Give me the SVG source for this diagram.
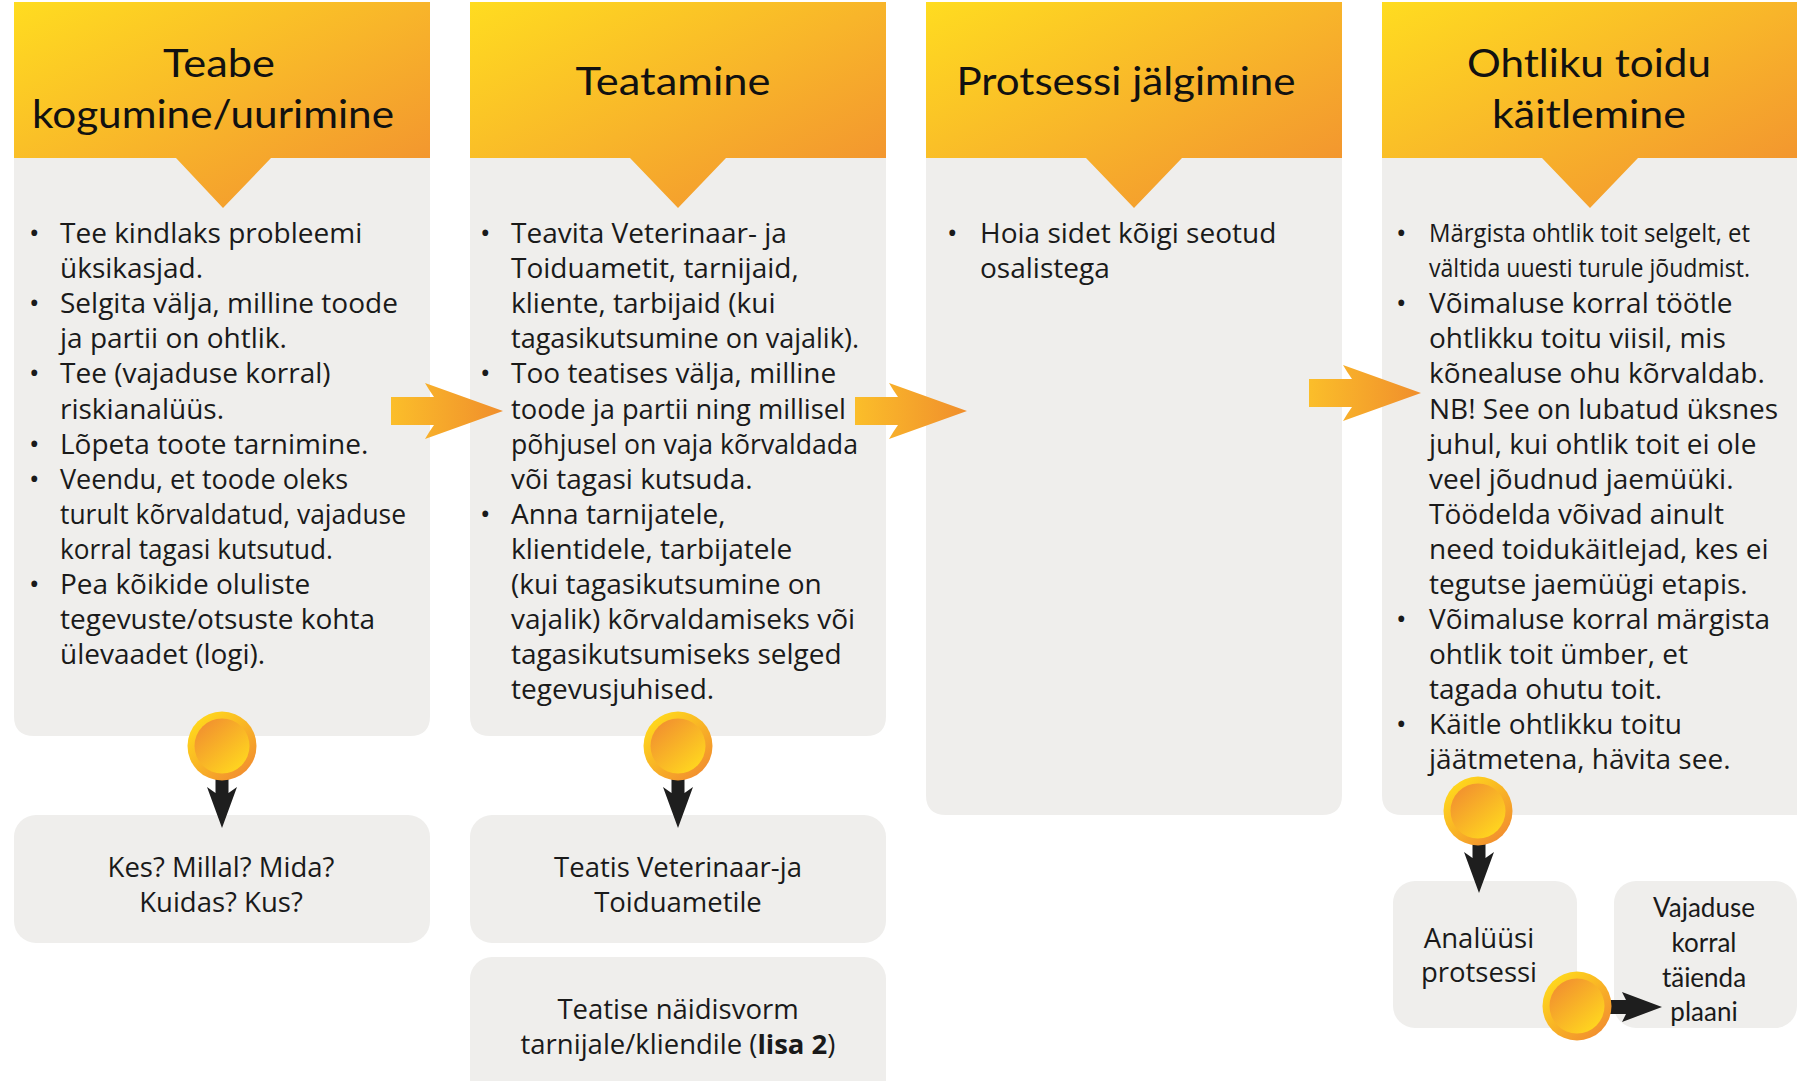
<svg xmlns="http://www.w3.org/2000/svg" width="1797" height="1081" viewBox="0 0 1797 1081">
<defs>
<linearGradient id="gHdr" x1="0" y1="0" x2="1" y2="1">
<stop offset="0" stop-color="#ffdc20"/>
<stop offset="0.5" stop-color="#f8b52a"/>
<stop offset="1" stop-color="#f18d30"/>
</linearGradient>
<linearGradient id="gArr" x1="0" y1="0" x2="1" y2="0">
<stop offset="0" stop-color="#fbbe2a"/>
<stop offset="1" stop-color="#f08e2c"/>
</linearGradient>
<linearGradient id="gOut" x1="0.15" y1="0.1" x2="0.85" y2="0.9">
<stop offset="0" stop-color="#ffd81c"/>
<stop offset="1" stop-color="#f28f2f"/>
</linearGradient>
<linearGradient id="gIn" x1="0.15" y1="0.1" x2="0.85" y2="0.9">
<stop offset="0" stop-color="#f2922f"/>
<stop offset="1" stop-color="#ffd61f"/>
</linearGradient>
<g id="coin">
<circle r="34.5" fill="url(#gOut)"/>
<circle r="27.5" fill="url(#gIn)"/>
</g>
<path id="downArr" d="M-6.5,0 L6.5,0 L6.5,14 L15,8 L0,49 L-15,8 L-6.5,14 Z" fill="#1e1e1e"/>
<path id="rightArr" d="M0,-14 L43,-14 Q38,-21 34,-28 L112,0 L34,28 Q38,21 43,14 L0,14 Z" fill="url(#gArr)"/>
</defs>
<style>
.box{fill:#efeeec}
.hdr{fill:url(#gHdr)}
.ttl{font-family:Lato,"Open Sans",sans-serif;font-size:39px;fill:#111;text-anchor:middle}
.bd{font-family:"Open Sans","DejaVu Sans",sans-serif;font-size:28px;fill:#1a1a1a}
.ctr{font-family:"Open Sans","DejaVu Sans",sans-serif;font-size:27.5px;fill:#1a1a1a;text-anchor:middle}
.nar{font-family:Lato,"Open Sans",sans-serif;font-size:26px;fill:#1a1a1a;text-anchor:middle}
.cnd{font-size:26px}
.b{font-weight:bold}
</style>
<rect width="1797" height="1081" fill="#ffffff"/>

<g id="col1">
<path class="box" d="M14,150 H430 V716 Q430,736 410,736 H34 Q14,736 14,716 Z"/>
<path class="hdr" d="M14,2 H430 V158 H271 L223,208 L176,158 H14 Z"/>
<text class="ttl" x="219" y="77" textLength="112" lengthAdjust="spacingAndGlyphs">Teabe</text>
<text class="ttl" x="213" y="128" textLength="362" lengthAdjust="spacingAndGlyphs">kogumine/uurimine</text>
<g class="bd">
<text x="29" y="243">•</text><text x="60" y="243">Tee kindlaks probleemi</text>
<text x="60" y="278">üksikasjad.</text>
<text x="29" y="313">•</text><text x="60" y="313">Selgita välja, milline toode</text>
<text x="60" y="348">ja partii on ohtlik.</text>
<text x="29" y="383">•</text><text x="60" y="383">Tee (vajaduse korral)</text>
<text x="60" y="419">riskianalüüs.</text>
<text x="29" y="454">•</text><text x="60" y="454">Lõpeta toote tarnimine.</text>
<text x="29" y="489">•</text><text x="60" y="489" textLength="288" lengthAdjust="spacingAndGlyphs">Veendu, et toode oleks</text>
<text x="60" y="524" textLength="346" lengthAdjust="spacingAndGlyphs">turult kõrvaldatud, vajaduse</text>
<text x="60" y="559" textLength="273" lengthAdjust="spacingAndGlyphs">korral tagasi kutsutud.</text>
<text x="29" y="594">•</text><text x="60" y="594">Pea kõikide oluliste</text>
<text x="60" y="629">tegevuste/otsuste kohta</text>
<text x="60" y="664">ülevaadet (logi).</text>
</g>
</g>

<g id="col2">
<path class="box" d="M470,150 H886 V716 Q886,736 866,736 H490 Q470,736 470,716 Z"/>
<path class="hdr" d="M470,2 H886 V158 H726 L678,208 L630,158 H470 Z"/>
<text class="ttl" x="673" y="95" textLength="195" lengthAdjust="spacingAndGlyphs">Teatamine</text>
<g class="bd">
<text x="480" y="243">•</text><text x="511" y="243">Teavita Veterinaar- ja</text>
<text x="511" y="278">Toiduametit, tarnijaid,</text>
<text x="511" y="313">kliente, tarbijaid (kui</text>
<text x="511" y="348" textLength="348" lengthAdjust="spacingAndGlyphs">tagasikutsumine on vajalik).</text>
<text x="480" y="383">•</text><text x="511" y="383">Too teatises välja, milline</text>
<text x="511" y="419" textLength="335" lengthAdjust="spacingAndGlyphs">toode ja partii ning millisel</text>
<text x="511" y="454" textLength="347" lengthAdjust="spacingAndGlyphs">põhjusel on vaja kõrvaldada</text>
<text x="511" y="489">või tagasi kutsuda.</text>
<text x="480" y="524">•</text><text x="511" y="524">Anna tarnijatele,</text>
<text x="511" y="559">klientidele, tarbijatele</text>
<text x="511" y="594">(kui tagasikutsumine on</text>
<text x="511" y="629">vajalik) kõrvaldamiseks või</text>
<text x="511" y="664">tagasikutsumiseks selged</text>
<text x="511" y="699">tegevusjuhised.</text>
</g>
</g>

<g id="col3">
<path class="box" d="M926,150 H1342 V795 Q1342,815 1322,815 H946 Q926,815 926,795 Z"/>
<path class="hdr" d="M926,2 H1342 V158 H1182 L1134,208 L1086,158 H926 Z"/>
<text class="ttl" x="1126" y="95" textLength="339" lengthAdjust="spacingAndGlyphs">Protsessi jälgimine</text>
<g class="bd">
<text x="947" y="243">•</text><text x="980" y="243">Hoia sidet kõigi seotud</text>
<text x="980" y="278">osalistega</text>
</g>
</g>

<g id="col4">
<path class="box" d="M1382,150 H1797 V815 H1402 Q1382,815 1382,795 Z"/>
<path class="hdr" d="M1382,2 H1797 V158 H1638 L1590,208 L1542,158 H1382 Z"/>
<text class="ttl" x="1589" y="77" textLength="244" lengthAdjust="spacingAndGlyphs">Ohtliku toidu</text>
<text class="ttl" x="1589" y="128" textLength="194" lengthAdjust="spacingAndGlyphs">käitlemine</text>
<g class="bd">
<text x="1396" y="243">•</text><text class="cnd" x="1429" y="242" textLength="321" lengthAdjust="spacingAndGlyphs">Märgista ohtlik toit selgelt, et</text>
<text class="cnd" x="1429" y="277" textLength="321" lengthAdjust="spacingAndGlyphs">vältida uuesti turule jõudmist.</text>
<text x="1396" y="313">•</text><text x="1429" y="313">Võimaluse korral töötle</text>
<text x="1429" y="348">ohtlikku toitu viisil, mis</text>
<text x="1429" y="383">kõnealuse ohu kõrvaldab.</text>
<text x="1429" y="419">NB! See on lubatud üksnes</text>
<text x="1429" y="454">juhul, kui ohtlik toit ei ole</text>
<text x="1429" y="489">veel jõudnud jaemüüki.</text>
<text x="1429" y="524">Töödelda võivad ainult</text>
<text x="1429" y="559">need toidukäitlejad, kes ei</text>
<text x="1429" y="594">tegutse jaemüügi etapis.</text>
<text x="1396" y="629">•</text><text x="1429" y="629">Võimaluse korral märgista</text>
<text x="1429" y="664">ohtlik toit ümber, et</text>
<text x="1429" y="699">tagada ohutu toit.</text>
<text x="1396" y="734">•</text><text x="1429" y="734">Käitle ohtlikku toitu</text>
<text x="1429" y="769">jäätmetena, hävita see.</text>
</g>
</g>

<g id="who">
<rect class="box" x="14" y="815" width="416" height="128" rx="22"/>
<text class="ctr" x="221" y="877">Kes? Millal? Mida?</text>
<text class="ctr" x="221" y="912">Kuidas? Kus?</text>
</g>

<g id="notice">
<rect class="box" x="470" y="815" width="416" height="128" rx="22"/>
<text class="ctr" x="678" y="877">Teatis Veterinaar-ja</text>
<text class="ctr" x="678" y="912">Toiduametile</text>
</g>

<g id="form">
<rect class="box" x="470" y="957" width="416" height="150" rx="22"/>
<text class="ctr" x="678" y="1019">Teatise näidisvorm</text>
<text class="ctr" x="678" y="1054">tarnijale/kliendile (<tspan class="b">lisa 2</tspan>)</text>
</g>

<g id="analyse">
<rect class="box" x="1393" y="881" width="184" height="147" rx="22"/>
<text class="ctr" x="1479" y="948">Analüüsi</text>
<text class="ctr" x="1479" y="982">protsessi</text>
</g>

<g id="supplement">
<rect class="box" x="1614" y="881" width="183" height="147" rx="22"/>
<text class="nar" x="1704" y="917">Vajaduse</text>
<text class="nar" x="1704" y="952">korral</text>
<text class="nar" x="1704" y="987">täienda</text>
<text class="nar" x="1704" y="1021">plaani</text>
</g>

<g id="connectors">
<use href="#rightArr" x="391" y="411"/>
<use href="#rightArr" x="855" y="411"/>
<use href="#rightArr" x="1309" y="393"/>
<use href="#downArr" x="222" y="779"/>
<use href="#coin" x="222" y="746"/>
<use href="#downArr" x="678" y="779"/>
<use href="#coin" x="678" y="746"/>
<use href="#downArr" x="1479" y="844"/>
<use href="#coin" x="1478" y="811"/>
<path d="M1605,1000 H1626 L1622,992 L1662,1007 L1622,1022 L1626,1014 H1605 Z" fill="#1e1e1e"/>
<use href="#coin" x="1577" y="1006"/>
</g>
</svg>
